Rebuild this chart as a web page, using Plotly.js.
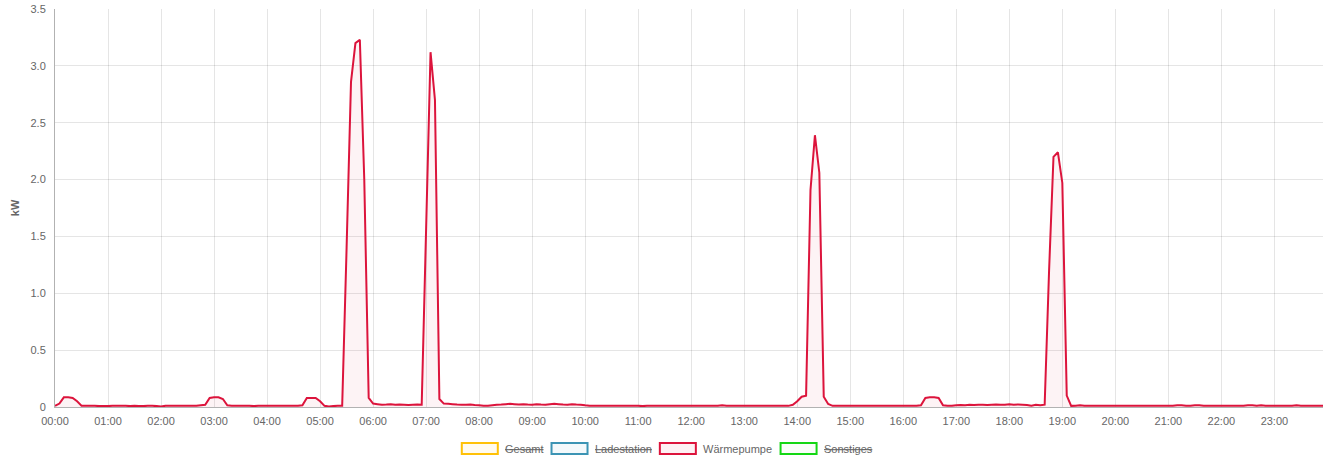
<!DOCTYPE html>
<html>
<head>
<meta charset="utf-8">
<script src="https://cdn.plot.ly/plotly-3.0.1.min.js"></script>
<style>
  html, body { margin: 0; padding: 0; background: #fff; }
  #chart { width: 1330px; height: 465px; }
</style>
</head>
<body>
<div id="chart"></div>
<script>
// ---- Data (kW, 5-minute values, Wärmepumpe) ----
const h00 = [0.01,0.03,0.085,0.085,0.08,0.05,0.012,0.012,0.01,0.01,0.008,0.008];
const h01 = [0.008,0.01,0.012,0.01,0.01,0.008,0.01,0.009,0.008,0.01,0.01,0.008];
const h02 = [0.004,0.01,0.01,0.012,0.01,0.01,0.01,0.012,0.01,0.015,0.02,0.08];
const h03 = [0.085,0.085,0.07,0.015,0.012,0.01,0.01,0.01,0.01,0.008,0.01,0.01];
const h04 = [0.01,0.01,0.01,0.012,0.01,0.01,0.012,0.01,0.015,0.08,0.08,0.08];
const h05 = [0.05,0.01,0.004,0.008,0.01,0.01,1.4,2.86,3.2,3.23,2.0,0.08];
const h06 = [0.03,0.025,0.02,0.022,0.025,0.02,0.022,0.02,0.018,0.02,0.022,0.02];
const h07 = [1.57,3.12,2.7,0.07,0.03,0.028,0.025,0.022,0.02,0.02,0.022,0.018];
const h08 = [0.015,0.012,0.01,0.015,0.02,0.022,0.025,0.028,0.025,0.022,0.025,0.022];
const h09 = [0.02,0.025,0.022,0.02,0.025,0.028,0.025,0.022,0.02,0.025,0.022,0.02];
const h10 = [0.015,0.012,0.012,0.01,0.012,0.01,0.01,0.012,0.01,0.01,0.012,0.01];
const h11 = [0.01,0.008,0.01,0.012,0.01,0.01,0.01,0.012,0.01,0.01,0.01,0.01];
const h12 = [0.01,0.012,0.01,0.01,0.01,0.01,0.012,0.015,0.012,0.01,0.01,0.01];
const h13 = [0.012,0.01,0.01,0.01,0.012,0.01,0.01,0.01,0.012,0.012,0.01,0.02];
const h14 = [0.05,0.09,0.1,1.91,2.39,2.06,0.09,0.026,0.01,0.01,0.01,0.01];
const h15 = [0.01,0.01,0.012,0.01,0.01,0.01,0.01,0.012,0.01,0.01,0.01,0.01];
const h16 = [0.01,0.01,0.01,0.01,0.015,0.08,0.085,0.085,0.08,0.015,0.01,0.01];
const h17 = [0.015,0.018,0.015,0.02,0.018,0.02,0.02,0.018,0.02,0.022,0.02,0.02];
const h18 = [0.025,0.02,0.022,0.02,0.018,0.012,0.02,0.015,0.02,1.2,2.2,2.24];
const h19 = [1.97,0.1,0.01,0.012,0.015,0.012,0.012,0.012,0.012,0.01,0.01,0.012];
const h20 = [0.012,0.012,0.01,0.012,0.012,0.012,0.01,0.01,0.012,0.012,0.01,0.01];
const h21 = [0.012,0.012,0.015,0.015,0.012,0.012,0.015,0.015,0.012,0.01,0.012,0.012];
const h22 = [0.01,0.012,0.01,0.01,0.012,0.012,0.015,0.015,0.012,0.015,0.012,0.012];
const h23 = [0.012,0.01,0.012,0.012,0.012,0.015,0.012,0.01,0.01,0.012,0.01,0.01];

const waermepumpe = [].concat(h00,h01,h02,h03,h04,h05,h06,h07,h08,h09,h10,h11,
                              h12,h13,h14,h15,h16,h17,h18,h19,h20,h21,h22,h23);

// category labels (HH:MM, every 5 minutes)
const times = [];
for (let h = 0; h < 24; h++) {
  for (let m = 0; m < 60; m += 5) {
    times.push(String(h).padStart(2,'0') + ':' + String(m).padStart(2,'0'));
  }
}
const hourTicks = times.filter(t => t.endsWith(':00'));

const yTickVals = [0,0.5,1.0,1.5,2.0,2.5,3.0,3.5];
const yTickText = ['0','0.5','1.0','1.5','2.0','2.5','3.0','3.5'];

const seriesNames  = ['Gesamt','Ladestation','Wärmepumpe','Sonstiges'];
const seriesHidden = [true, true, false, true];
const seriesLine   = ['rgb(255,193,7)','rgb(60,148,180)','rgb(220,20,60)','rgb(20,215,20)'];
const seriesFill   = ['rgba(255,193,7,0.06)','rgba(60,148,180,0.06)','rgba(220,20,60,0.06)','rgba(20,215,20,0.02)'];

// ---- Layout geometry (pixels) ----
const L = 55.3, R = 1323, T = 9, B = 407;
const W = R - L, H = B - T;
const px = x => (x - L) / W;
const py = y => (B - y) / H;

const trace = {
  x: times,
  y: waermepumpe,
  type: 'scatter',
  mode: 'lines',
  name: 'Wärmepumpe',
  line: { color: 'rgb(220,20,60)', width: 2, simplify: false },
  fill: 'tozeroy',
  fillcolor: 'rgba(220,20,60,0.05)',
  hoverinfo: 'x+y',
  showlegend: false
};

const shapes = [];
const annotations = [];
const boxX = [462, 551.7, 660, 780.7];
const textX = [503.3, 592.7, 701, 822.3];
for (let i = 0; i < seriesNames.length; i++) {
  shapes.push({
    type: 'rect', xref: 'paper', yref: 'paper',
    x0: px(boxX[i]), x1: px(boxX[i] + 36), y0: py(454), y1: py(443),
    line: { color: seriesLine[i], width: 2 },
    fillcolor: seriesFill[i]
  });
  annotations.push({
    xref: 'paper', yref: 'paper',
    x: px(textX[i]), y: py(448.7),
    xanchor: 'left', yanchor: 'middle',
    text: seriesHidden[i] ? '<s>' + seriesNames[i] + '</s>' : seriesNames[i],
    showarrow: false,
    font: { family: 'Liberation Sans, Arial, sans-serif', size: 11, color: '#666' }
  });
}
annotations.push({
  xref: 'paper', yref: 'paper',
  x: px(15.5), y: py(208),
  xanchor: 'center', yanchor: 'middle',
  text: '<b>kW</b>', textangle: -90, showarrow: false,
  font: { family: 'Liberation Sans, Arial, sans-serif', size: 11, color: '#666' }
});

const layout = {
  width: 1330, height: 465,
  margin: { l: L, r: 1330 - R, t: T, b: 465 - B, pad: 0 },
  paper_bgcolor: '#fff', plot_bgcolor: '#fff',
  showlegend: false,
  font: { family: 'Liberation Sans, Arial, sans-serif', size: 11, color: '#666' },
  xaxis: {
    type: 'category',
    range: [0, times.length - 1],
    tickmode: 'array', tickvals: hourTicks, ticktext: hourTicks,
    showgrid: true, gridcolor: 'rgba(0,0,0,0.1)', gridwidth: 1,
    showline: true, linecolor: 'rgba(0,0,0,0.3)', linewidth: 1,
    ticks: 'outside', ticklen: 4, tickcolor: 'rgba(0,0,0,0)',
    tickangle: 0, zeroline: false, fixedrange: true,
    tickfont: { size: 11, color: '#666' }
  },
  yaxis: {
    range: [0, 3.5],
    tickmode: 'array', tickvals: yTickVals, ticktext: yTickText,
    showgrid: true, gridcolor: 'rgba(0,0,0,0.1)', gridwidth: 1,
    showline: true, linecolor: 'rgba(0,0,0,0.3)', linewidth: 1,
    ticks: 'outside', ticklen: 6, tickcolor: 'rgba(0,0,0,0)',
    zeroline: false, fixedrange: true,
    tickfont: { size: 11, color: '#666' }
  },
  shapes: shapes,
  annotations: annotations
};

Plotly.newPlot('chart', [trace], layout, { displayModeBar: false, responsive: false });
</script>
</body>
</html>
